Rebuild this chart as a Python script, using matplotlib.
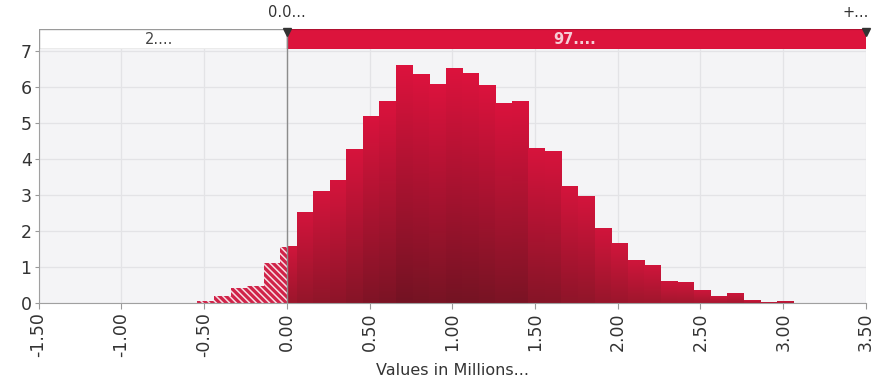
import numpy as np
import matplotlib
matplotlib.use("Agg")
import matplotlib.pyplot as plt
from matplotlib.colors import LinearSegmentedColormap, to_rgb

plt.rcParams['font.family'] = ['DejaVu Sans']
plt.rcParams['hatch.linewidth'] = 1.1

# histogram data (percent per bin), bins 0.1 wide starting at -0.54
bin_start = -0.54
bin_width = 0.1
heights = [0.06, 0.20, 0.40, 0.46, 1.10, 1.56,
           2.50, 3.10, 3.40, 4.27, 5.18, 5.60, 6.60, 6.36, 6.08, 6.52,
           6.38, 6.05, 5.55, 5.60, 4.30, 4.20, 3.23, 2.96, 2.06, 1.65,
           1.19, 1.03, 0.60, 0.57, 0.35, 0.19, 0.27, 0.06, 0.02, 0.03]

x_ticks = [-1.5, -1.0, -0.5, 0.0, 0.5, 1.0, 1.5, 2.0, 2.5, 3.0, 3.5]
x_ticklabels = ['-1.50', '-1.00', '-0.50', '0.00', '0.50', '1.00', '1.50',
                '2.00', '2.50', '3.00', '3.50']
y_ticks = [0, 1, 2, 3, 4, 5, 6, 7]

split = 0.0
left_pct = '2....'
right_pct = '97....'
left_mark = '0.0...'
right_mark = '+...'
xlabel = 'Values in Millions...'

edges = bin_start + bin_width * np.arange(len(heights) + 1)
hmax = max(heights)

def mix(c1, c2, t):
    a, b = np.array(to_rgb(c1)), np.array(to_rgb(c2))
    return tuple(a + (b - a) * t)

fig = plt.figure(figsize=(8.86, 3.88), dpi=100)
ax = fig.add_axes([0.0435, 0.2198, 0.9339, 0.6532])
axt = fig.add_axes([0.0435, 0.873, 0.9339, 0.0515])

ax.set_facecolor('#f4f4f6')
ax.grid(True, color='#e3e3e6', lw=0.9, zorder=0)
ax.set_axisbelow(True)

grad = np.linspace(0, 1, 64).reshape(-1, 1)
for l, r, h in zip(edges[:-1], edges[1:], heights):
    t = h / hmax
    # hatched part left of the split value
    if l < split:
        rr = min(r, split)
        ax.bar(l, h, width=rr - l, align='edge', color='#d02349',
               edgecolor='#f7dde3', hatch='\\\\\\\\\\', lw=0, zorder=2)
    if r > split:
        ll = max(l, split)
        top = mix('#cc163b', '#dc123d', t)
        bot = mix('#a8172f', '#741323', t)
        cmap = LinearSegmentedColormap.from_list('g', [bot, top])
        ax.imshow(grad, extent=[ll, r, 0, h], origin='lower', cmap=cmap,
                  aspect='auto', interpolation='bilinear', zorder=2)

ax.set_xlim(-1.5, 3.5)
ax.set_ylim(0, 7.04)
ax.axvline(split, color='#8c8c8c', lw=1.0, zorder=3)

ax.set_xticks(x_ticks)
ax.set_xticklabels(x_ticklabels, rotation=90, fontsize=12.5, color='#333333')
ax.set_yticks(y_ticks)
ax.tick_params(axis='y', labelsize=12.5, labelcolor='#333333', length=3,
               color='#999999', pad=2)
ax.tick_params(axis='x', length=4, color='#999999', pad=3)
for s in ['top', 'right']:
    ax.spines[s].set_visible(False)
for s in ['left', 'bottom']:
    ax.spines[s].set_color('#a0a0a0')
ax.set_xlabel(xlabel, fontsize=11.5, color='#333333', labelpad=4)

# top band with the split percentages
axt.set_xlim(-1.5, 3.5)
axt.set_ylim(0, 1)
axt.axis('off')
axt.barh(0.5, split - (-1.5), left=-1.5, height=1, color='white',
         edgecolor='#9a9a9a', lw=1)
axt.barh(0.5, 3.5 - split, left=split, height=1, color='#dc143c',
         edgecolor='#b01030', lw=0.8)
axt.text(-0.77, 0.5, left_pct, ha='center', va='center', fontsize=10.5,
         color='#444444')
axt.text(1.74, 0.5, right_pct, ha='center', va='center', fontsize=10.5,
         color='#f6cdd6', fontweight='bold')
axt.plot([split, 3.5], [0.88, 0.88], 'v', color='#333333', ms=6,
         clip_on=False, zorder=5)
axt.axvline(split, color='#8c8c8c', lw=1.0)
axt.text(split, 1.45, left_mark, ha='center', va='bottom', fontsize=10.5,
         color='#333333', clip_on=False)
axt.text(3.44, 1.45, right_mark, ha='center', va='bottom', fontsize=10.5,
         color='#333333', clip_on=False)

fig.savefig('out.png', dpi=100)
